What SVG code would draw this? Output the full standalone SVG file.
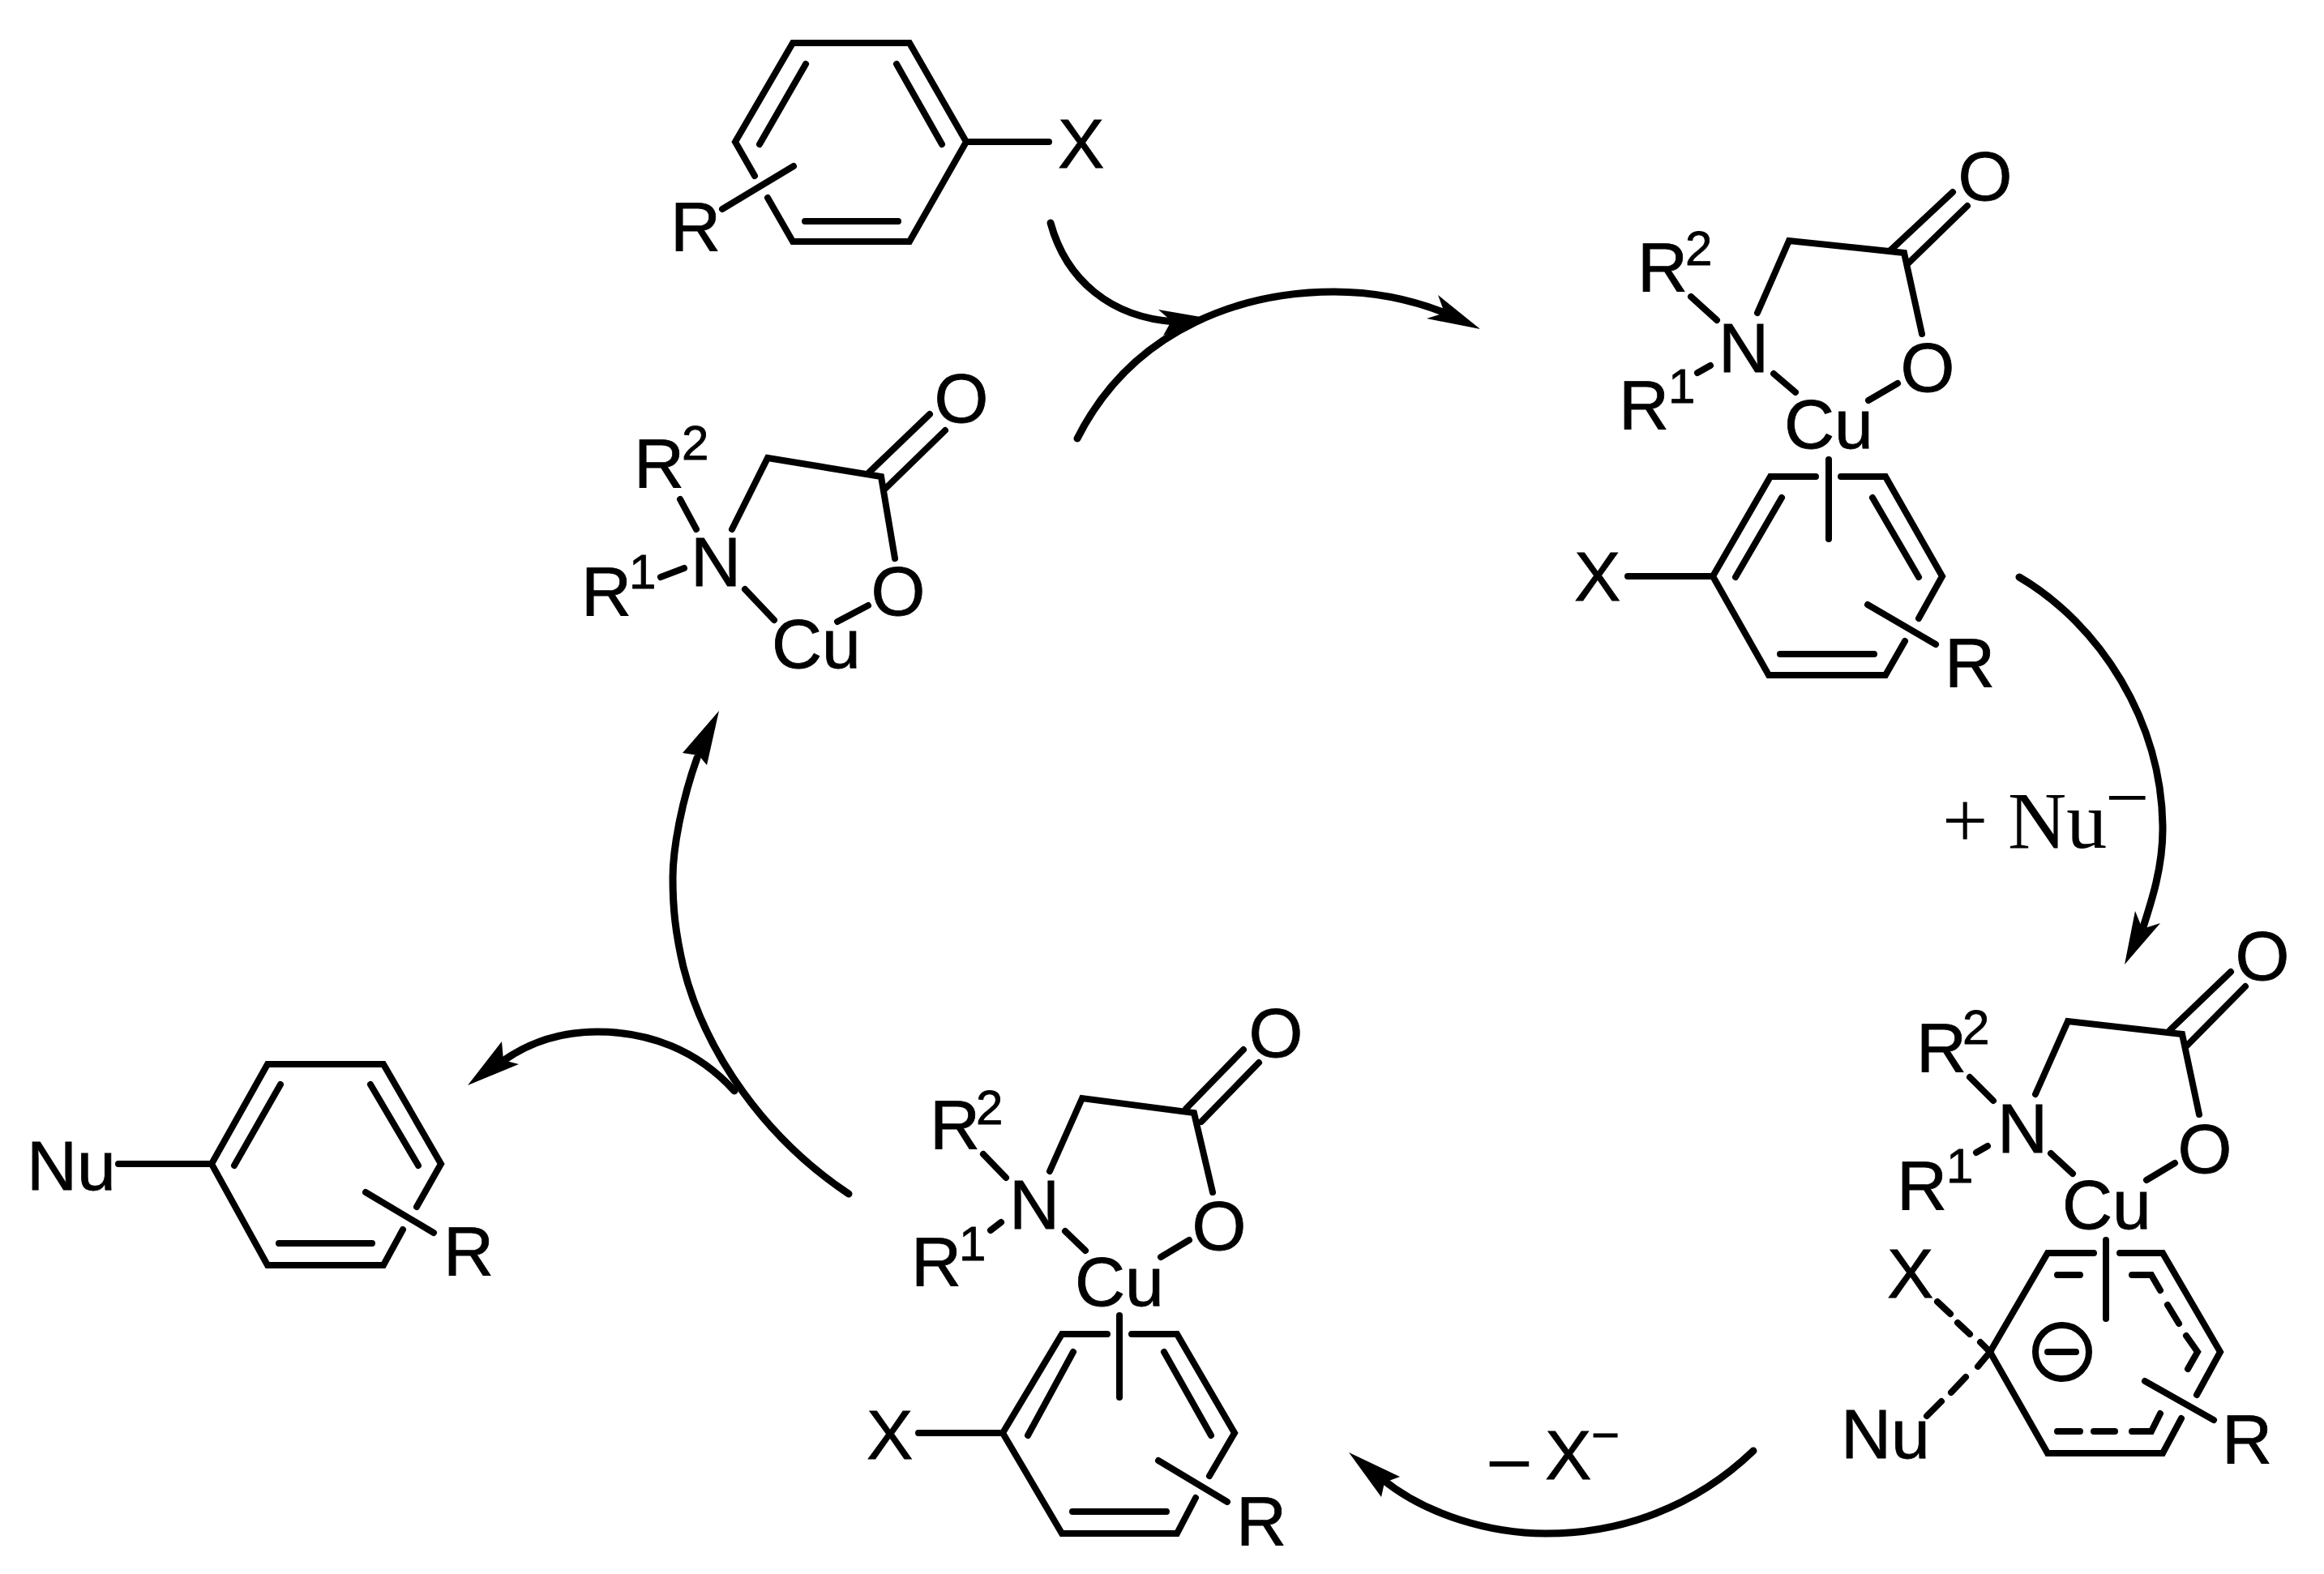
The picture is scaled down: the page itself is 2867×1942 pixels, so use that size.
<svg xmlns="http://www.w3.org/2000/svg" width="2867" height="1942" viewBox="0 0 2867 1942">
<style>
.b{fill:none;stroke:#000;stroke-width:8;stroke-linecap:round;stroke-linejoin:miter}
.a{fill:none;stroke:#000;stroke-width:9;stroke-linecap:round}
.h{fill:#000;stroke:none}
text{font-family:"Liberation Sans",Arial,sans-serif;font-size:86px;fill:#000;stroke:#000;stroke-width:.8px}
.s{font-size:60px}
.t{font-family:"Liberation Serif","Times New Roman",serif;font-size:100px;stroke-width:0}
.m{font-size:96px}
</style>
<rect width="2867" height="1942" fill="#fff"/>
<g id="connectors">
<path class="a" d="M1296,275C1315,345 1370,392 1450,397"/>
<polygon class="h" points="1487,392 1429,382 1445,396 1435,414"/>
<path class="a" d="M1329,541C1400,400 1540,360 1646,360C1690,360 1740,368 1790,389"/>
<polygon class="h" points="1826,406 1774,364 1782,386 1760,393"/>
<path class="a" d="M2491,712C2590,770 2668,890 2668,1023C2668,1070 2655,1110 2642,1150"/>
<polygon class="h" points="2621,1190 2634,1124 2643,1146 2665,1139"/>
<path class="a" d="M2163,1790C2090,1860 2000,1892 1907,1892C1840,1892 1760,1870 1704,1824"/>
<polygon class="h" points="1664,1792 1727,1822 1708,1829 1704,1847"/>
<path class="a" d="M1047,1473C945,1405 870,1300 843,1193C833,1150 830,1120 830,1083C830,1045 842,985 860,935"/>
<polygon class="h" points="887,877 842,929 862,932 872,944"/>
<path class="a" d="M906,1346C860,1295 800,1273 737,1273C695,1273 655,1285 622,1308"/>
<polygon class="h" points="577,1339 619,1285 621,1308 640,1313"/>
</g>
<g id="aryl-halide">
<path class="b" d="M931,217L907,175L978,53H1122L1192,175L1122,298H978L947,244M994,79L937,178M1106,79L1162,178M993,273H1108M891,258L979,205M1192,175H1294"/>
<text x="1305" y="207">X</text>
<text x="827" y="309">R</text>
</g>
<g id="cu-complex">
<path class="b" d="M903,653L947,565L1087,588L1104,689M1072,583L1147,511M1092,603L1166,531M839,616L859,653M815,712L844,701M919,727L955,765M1033,767L1071,747"/>
<text x="782" y="601">R<tspan class="s" x="841" y="567">2</tspan></text>
<text x="717" y="759">R<tspan class="s" x="776" y="726">1</tspan></text>
<text x="852" y="723">N</text>
<text x="1186" y="521" text-anchor="middle">O</text>
<text x="1108" y="759" text-anchor="middle">O</text>
<text x="952" y="824">Cu</text>
</g>
<g id="pi-complex">
<path class="b" d="M2168,386L2207,297L2349,312L2371,412M2332,309L2409,237M2353,326L2427,254M2086,366L2118,395M2094,460L2110,451M2188,461L2215,484M2305,494L2341,473"/>
<path class="b" d="M2240,588H2184L2113,711L2182,833H2326L2350,791M2367,763L2396,711L2326,588H2271M2256,567V665M2198,614L2141,712M2310,614L2367,712M2196,807H2312M2304,746L2388,795M2008,711H2113"/>
<text x="2020" y="359">R<tspan class="s" x="2079" y="327">2</tspan></text>
<text x="1997" y="529">R<tspan class="s" x="2058" y="497">1</tspan></text>
<text x="2120" y="459">N</text>
<text x="2449" y="247" text-anchor="middle">O</text>
<text x="2378" y="483" text-anchor="middle">O</text>
<text x="2201" y="553">Cu</text>
<text x="1942" y="741">X</text>
<text x="2399" y="847">R</text>
</g>
<g id="meisenheimer-complex">
<path class="b" d="M2511,1350L2551,1260L2692,1276L2713,1375M2677,1271L2752,1199M2697,1291L2770,1217M2430,1329L2459,1358M2438,1422L2452,1414M2530,1423L2557,1448M2648,1456L2683,1435"/>
<path class="b" d="M2583,1546H2526L2455,1668L2526,1793H2668L2691,1750M2710,1721L2739,1668L2668,1546H2615M2598,1530V1627M2538,1573H2566M2630,1573H2654L2665,1592M2674,1610L2688,1633M2697,1648L2711,1668L2699,1689M2538,1766H2566M2583,1766H2609M2630,1766H2654L2665,1744M2646,1704L2731,1752M2390,1606L2406,1621M2415,1632L2430,1646M2443,1656L2455,1668L2440,1686M2425,1699L2407,1718M2395,1729L2377,1747"/>
<circle class="b" cx="2544" cy="1668" r="33"/>
<path class="b" d="M2526,1668H2561"/>
<text x="2364" y="1322">R<tspan class="s" x="2421" y="1288">2</tspan></text>
<text x="2340" y="1492">R<tspan class="s" x="2401" y="1459">1</tspan></text>
<text x="2464" y="1422">N</text>
<text x="2791" y="1209" text-anchor="middle">O</text>
<text x="2720" y="1447" text-anchor="middle">O</text>
<text x="2544" y="1516">Cu</text>
<text x="2328" y="1601">X</text>
<text x="2271" y="1799">Nu</text>
<text x="2741" y="1805">R</text>
</g>
<g id="product-complex">
<path class="b" d="M1295,1445L1335,1355L1473,1373L1496,1471M1463,1368L1534,1295M1482,1384L1553,1311M1213,1424L1241,1453M1222,1518L1235,1508M1314,1519L1339,1543M1432,1551L1467,1530"/>
<path class="b" d="M1366,1646H1310L1237,1768L1310,1892H1452L1475,1848M1492,1821L1523,1768L1452,1646H1396M1381,1623V1724M1324,1668L1268,1771M1436,1668L1494,1771M1323,1865H1439M1429,1802L1514,1853M1133,1768H1237"/>
<text x="1147" y="1417">R<tspan class="s" x="1204" y="1387">2</tspan></text>
<text x="1124" y="1586">R<tspan class="s" x="1183" y="1555">1</tspan></text>
<text x="1245" y="1516">N</text>
<text x="1574" y="1304" text-anchor="middle">O</text>
<text x="1504" y="1542" text-anchor="middle">O</text>
<text x="1326" y="1611">Cu</text>
<text x="1069" y="1800">X</text>
<text x="1525" y="1906">R</text>
</g>
<g id="product">
<path class="b" d="M514,1489L544,1436L473,1313H330L261,1436L330,1561H473L497,1517M346,1338L289,1438M457,1338L516,1438M344,1534H459M451,1471L535,1521M146,1436H261"/>
<text x="33" y="1468">Nu</text>
<text x="547" y="1573">R</text>
</g>
<g id="label-nu">
<text class="t" x="2396" y="1046">+</text>
<text class="t" x="2477" y="1046">Nu</text>
<text class="t m" x="2597" y="1016">−</text>
</g>
<g id="label-x">
<text x="1838" y="1828">–</text>
<text x="1906" y="1825">X</text>
<text x="1963" y="1791" class="s">−</text>
</g>
</svg>
